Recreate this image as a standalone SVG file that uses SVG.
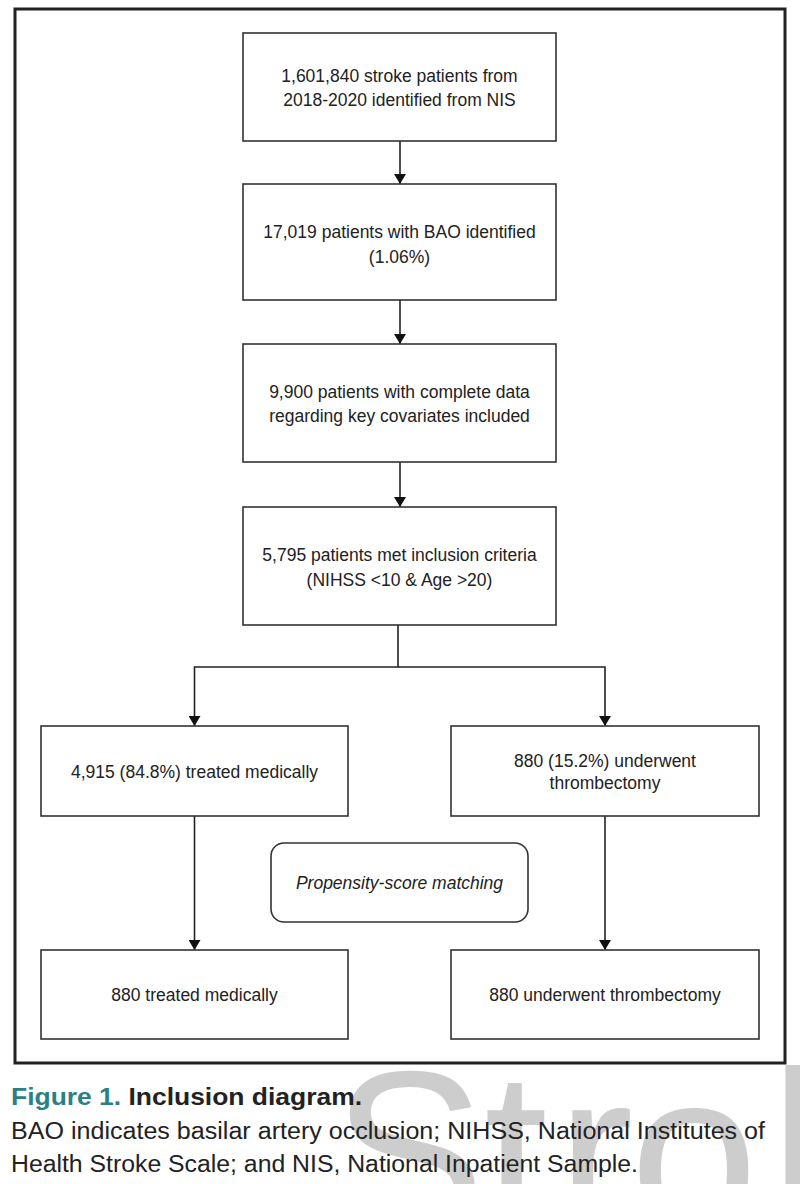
<svg xmlns="http://www.w3.org/2000/svg" width="800" height="1184" viewBox="0 0 800 1184">
<defs>
<style>
.box{fill:#fff;stroke:#333;stroke-width:1.6}
.t{font-family:"Liberation Sans",Arial,sans-serif;font-size:17.5px;fill:#222;text-anchor:middle}
.conn{stroke:#222;stroke-width:1.6;fill:none}
.cap{font-family:"Liberation Sans",Arial,sans-serif;fill:#222}
</style>
<marker id="ah" viewBox="0 0 10 12" refX="10" refY="6" markerWidth="10" markerHeight="12" markerUnits="userSpaceOnUse" orient="auto">
<path d="M0,0 L10,6 L0,12 Z" fill="#111"/>
</marker>
</defs>
<rect width="800" height="1184" fill="#fff"/>
<g id="watermark" font-family="Liberation Sans,Arial,sans-serif" font-size="230" fill="#cdcdcd">
<text x="332" y="1232">S</text>
<text x="484" y="1232">t</text>
<text x="557" y="1232">r</text>
<text x="630" y="1232">o</text>
<text x="770" y="1232">k</text>
</g>
<rect id="frame" x="15" y="9" width="770" height="1054" fill="none" stroke="#222" stroke-width="3"/>
<g id="connectors">
<line class="conn" x1="400" y1="141" x2="400" y2="184" marker-end="url(#ah)"/>
<line class="conn" x1="400" y1="300" x2="400" y2="344" marker-end="url(#ah)"/>
<line class="conn" x1="400" y1="462" x2="400" y2="507" marker-end="url(#ah)"/>
<polyline class="conn" points="398,625 398,667 194.5,667 194.5,726" marker-end="url(#ah)"/>
<polyline class="conn" points="398,667 605,667 605,726" marker-end="url(#ah)"/>
<line class="conn" x1="194.5" y1="816" x2="194.5" y2="950" marker-end="url(#ah)"/>
<line class="conn" x1="605" y1="816" x2="605" y2="950" marker-end="url(#ah)"/>
</g>
<g id="n1"><rect class="box" x="243" y="33" width="313" height="108"/>
<text class="t" x="399.5" y="82">1,601,840 stroke patients from</text>
<text class="t" x="399.5" y="106">2018-2020 identified from NIS</text></g>
<g id="n2"><rect class="box" x="243" y="184" width="313" height="116"/>
<text class="t" x="399.5" y="238">17,019 patients with BAO identified</text>
<text class="t" x="399.5" y="263">(1.06%)</text></g>
<g id="n3"><rect class="box" x="243" y="344" width="313" height="118"/>
<text class="t" x="399.5" y="398">9,900 patients with complete data</text>
<text class="t" x="399.5" y="422">regarding key covariates included</text></g>
<g id="n4"><rect class="box" x="243" y="507" width="313" height="118"/>
<text class="t" x="399.5" y="561">5,795 patients met inclusion criteria</text>
<text class="t" x="399.5" y="586">(NIHSS &lt;10 &amp; Age &gt;20)</text></g>
<g id="n5"><rect class="box" x="41" y="726" width="307" height="90"/>
<text class="t" x="194.5" y="778">4,915 (84.8%) treated medically</text></g>
<g id="n6"><rect class="box" x="451" y="726" width="308" height="90"/>
<text class="t" x="605" y="767">880 (15.2%) underwent</text>
<text class="t" x="605" y="789">thrombectomy</text></g>
<g id="n7"><rect class="box" x="271" y="843" width="257" height="79" rx="13"/>
<text class="t" x="399.5" y="889" font-style="italic">Propensity-score matching</text></g>
<g id="n8"><rect class="box" x="41" y="950" width="307" height="89"/>
<text class="t" x="194.5" y="1001">880 treated medically</text></g>
<g id="n9"><rect class="box" x="451" y="950" width="308" height="89"/>
<text class="t" x="605" y="1001">880 underwent thrombectomy</text></g>
<g id="caption">
<text class="cap" x="11" y="1105" font-size="24" font-weight="bold" textLength="351" lengthAdjust="spacingAndGlyphs"><tspan fill="#2b7f87">Figure 1.</tspan> Inclusion diagram.</text>
<text class="cap" x="11" y="1139" font-size="23" textLength="754" lengthAdjust="spacingAndGlyphs">BAO indicates basilar artery occlusion; NIHSS, National Institutes of</text>
<text class="cap" x="11" y="1172" font-size="23" textLength="627" lengthAdjust="spacingAndGlyphs">Health Stroke Scale; and NIS, National Inpatient Sample.</text>
</g>
</svg>
